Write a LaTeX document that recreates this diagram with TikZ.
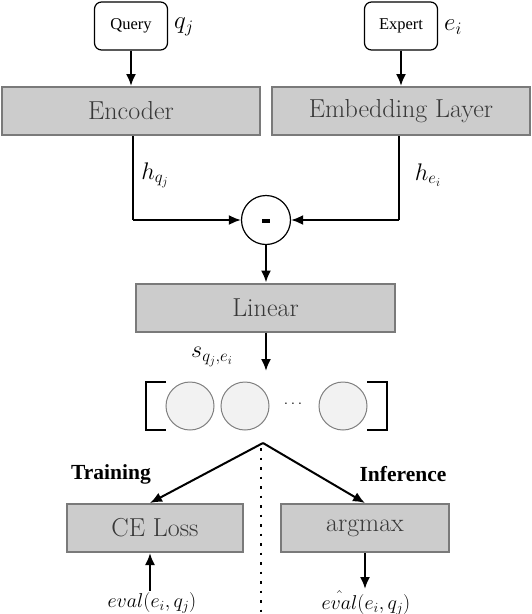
\RequirePackage{fix-cm}
\documentclass[tikz,border=0pt]{standalone}
\usepackage{fontspec}
\usetikzlibrary{arrows.meta,calc}
\newfontfamily\timesf{Liberation Serif}
\definecolor{boxfill}{HTML}{CCCCCC}
\definecolor{boxline}{HTML}{7A7A7A}
\definecolor{cellfill}{HTML}{F2F2F2}
\definecolor{cellline}{HTML}{808080}
\begin{document}
\begin{tikzpicture}[x=1pt,y=-1pt,
  bigbox/.style={draw=boxline, fill=boxfill, line width=2pt, minimum height=48pt, inner sep=0pt, font=\fontsize{26}{30}\selectfont, text=black!78},
  inbox/.style={draw, rounded corners=7pt, line width=1.2pt, minimum width=73pt, minimum height=48pt, inner sep=0pt, font=\timesf\fontsize{16.5}{19}\selectfont},
  lbl/.style={inner sep=0pt, font=\fontsize{25}{29}\selectfont},
  hlbl/.style={inner sep=0pt, font=\fontsize{24}{28}\selectfont},
  slbl/.style={inner sep=0pt, font=\fontsize{20}{24}\selectfont},
  cell/.style={circle, draw=cellline, fill=cellfill, line width=1pt, minimum size=48pt, inner sep=0pt},
  arr/.style={line width=2pt, -{Latex[length=12pt,width=10pt]}},
  conn/.style={line width=2pt},
  head/.style={inner sep=0pt, font=\timesf\bfseries\fontsize{21.5}{25}\selectfont}]
\useasboundingbox (0,0) rectangle (532,614);
% inputs
\node[inbox] (query) at (131,26) {Query};
\node[lbl, anchor=west] (ql) at (174,27) {$q_j$};
\node[inbox] (expert) at (401,26) {Expert};
\node[lbl, anchor=west] (el) at (444,27) {$e_i$};
% layers
\node[bigbox, minimum width=258pt] (enc) at (131,111) {Encoder};
\node[bigbox, minimum width=258pt] (emb) at (401,111) {Embedding Layer};
\draw[arr] (query) -- (enc);
\draw[arr] (expert) -- (emb);
% minus
\node[circle, draw, line width=1.2pt, minimum size=49pt, inner sep=0pt] (minus) at (266,220) {};
\fill (262,218.5) rectangle (270,222.5);
\coordinate (lc) at (133,220);
\coordinate (rc) at (399,220);
\draw[conn] (enc.south -| lc) -- (lc);
\draw[arr] (lc) -- (minus.west);
\draw[conn] (emb.south -| rc) -- (rc);
\draw[arr] (rc) -- (minus.east);
\node[hlbl] (hq) at (155,175) {$h_{q_j}$};
\node[hlbl] (he) at (428,175) {$h_{e_i}$};
% linear
\node[bigbox, minimum width=259pt] (lin) at (265.5,307.5) {Linear};
\draw[arr] (minus) -- (minus |- lin.north);
\coordinate (vtop) at (266,371);
\draw[arr] (lin.south -| vtop) -- (vtop);
\node[hlbl] (sl) at (212,357) {$s_{q_j,e_i}$};
% vector
\node[cell] (c1) at (190,406) {};
\node[cell] (c2) at (245,406) {};
\node[cell] (c3) at (343,406) {};
\node[inner sep=0pt, font=\fontsize{16}{19}\selectfont] (dots) at (293,404) {$\ldots$};
\draw[line width=2.5pt] (166,382) -- (146,382) -- (146,430) -- (166,430);
\draw[line width=2.5pt] (367,382) -- (387,382) -- (387,430) -- (367,430);
% split
\coordinate (split) at (263,443);
\draw[line width=2.5pt, dash pattern=on 2.5pt off 7pt] (261,448) -- (261,614);
\node[bigbox, minimum width=176pt] (ce) at (155,528) {CE Loss};
\node[bigbox, minimum width=168pt] (am) at (365,528) {argmax};
\draw[arr] (split) -- ([xshift=-5pt]ce.north);
\draw[arr] (split) -- (am.north);
\node[head] (tr) at (111,474) {Training};
\node[head] (inf) at (403,474) {Inference};
% outputs
\node[slbl] (ev) at (152,603) {$eval(e_i,q_j)$};
\node[slbl] (hev) at (366,603) {$\hat{eval}(e_i,q_j)$};
\coordinate (evt) at (150,591);
\draw[arr] (evt) -- (evt |- ce.south);
\coordinate (hevt) at (365,589);
\draw[arr] (am.south -| hevt) -- (hevt);
\end{tikzpicture}
\end{document}
